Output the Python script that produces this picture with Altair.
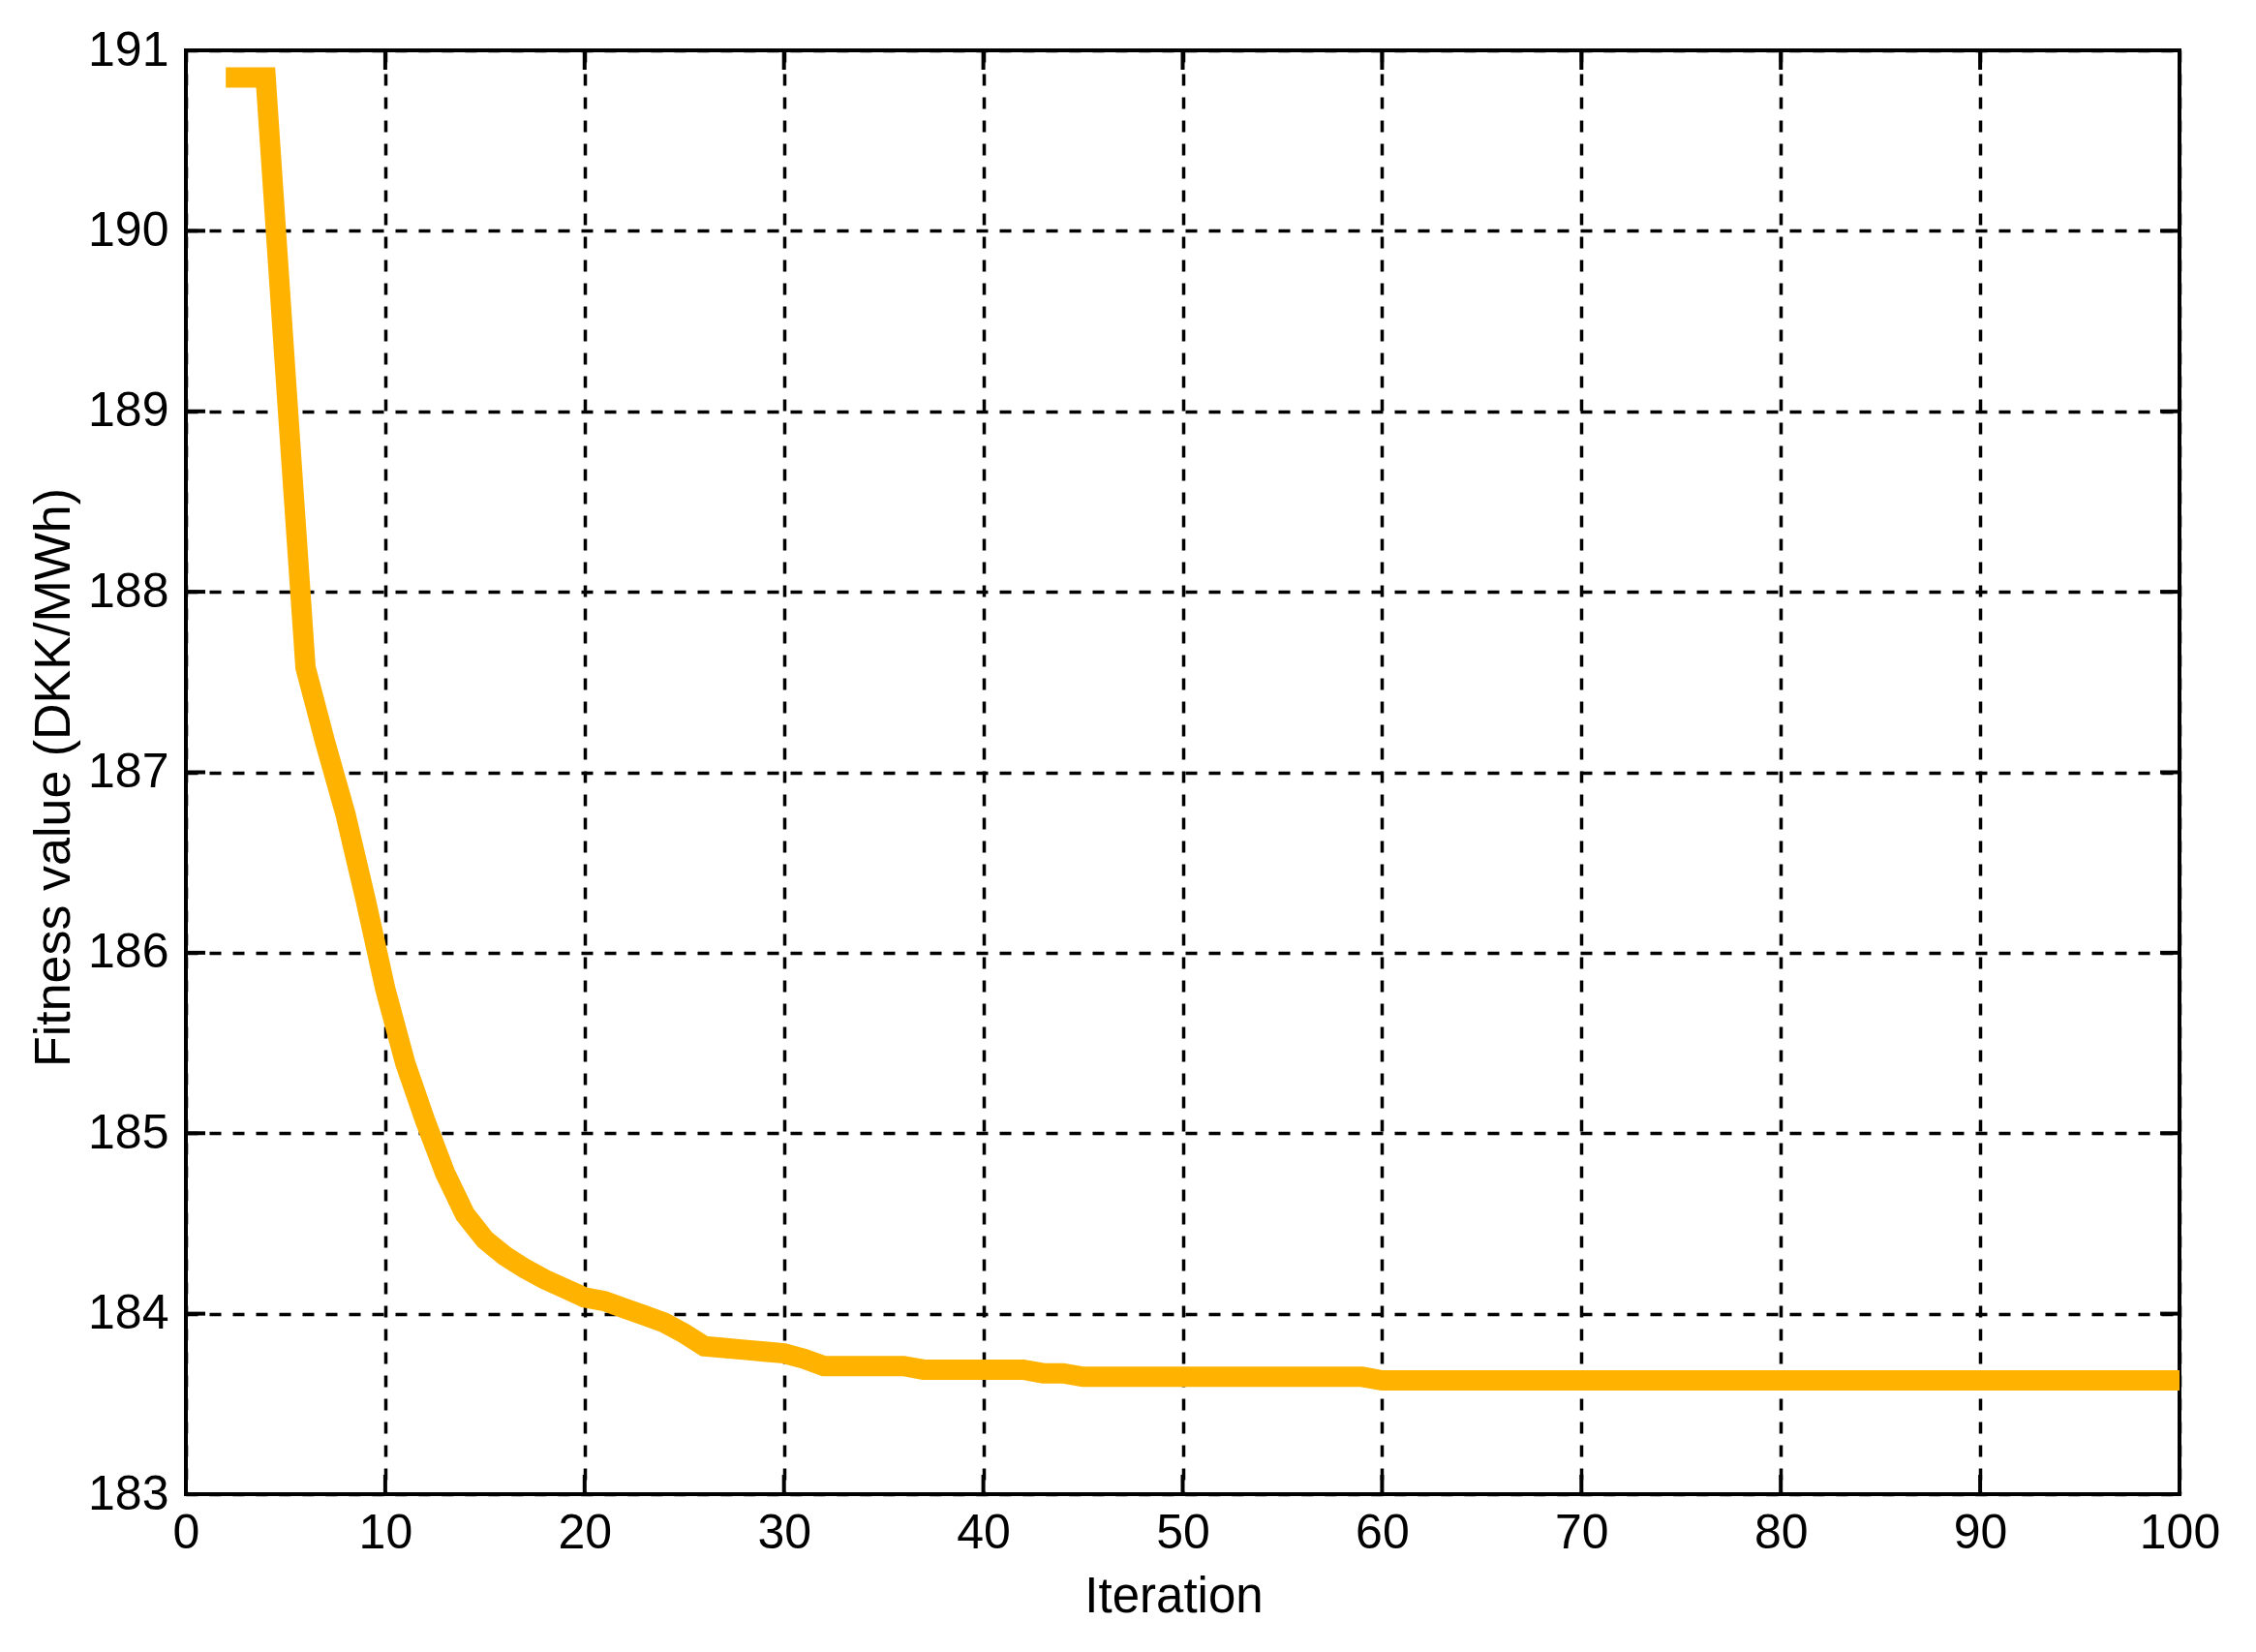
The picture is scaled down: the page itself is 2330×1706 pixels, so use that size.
import altair as alt
import pandas as pd

# Convergence curve
iterations = [2, 3, 4, 5, 6, 7, 8, 9, 10, 11, 12, 13, 14, 15, 16, 17, 18, 19, 20,
              21, 22, 23, 24, 25, 26, 27, 28, 29, 30, 31, 32, 36, 37, 42, 43, 44,
              45, 59, 60, 100]
fitness = [190.85, 190.85, 190.85, 189.20, 187.58, 187.16, 186.77, 186.30, 185.80,
           185.39, 185.07, 184.78, 184.55, 184.41, 184.32, 184.25, 184.19, 184.14,
           184.09, 184.07, 184.03, 183.99, 183.95, 183.89, 183.82, 183.81, 183.80,
           183.79, 183.78, 183.75, 183.71, 183.71, 183.69, 183.69, 183.67, 183.67,
           183.65, 183.65, 183.63, 183.63]

x_ticks = [0, 10, 20, 30, 40, 50, 60, 70, 80, 90, 100]
y_ticks = [183, 184, 185, 186, 187, 188, 189, 190, 191]

W, H = 2059, 1491
FONT = "Liberation Sans"
TICK = 20

df = pd.DataFrame({"it": iterations, "fit": fitness})
xt = pd.DataFrame({"it": x_ticks})
yt = pd.DataFrame({"fit": y_ticks})

xs = alt.Scale(domain=[0, 100], nice=False, zero=False)
ys = alt.Scale(domain=[183, 191], nice=False, zero=False)

x_axis = alt.Axis(values=x_ticks, format="d", grid=True, gridColor="black",
                  gridDash=[12, 12], gridWidth=3.5, gridOpacity=1, ticks=False,
                  domain=False, labelFont=FONT, labelFontSize=50, labelColor="black",
                  labelPadding=15, labelOverlap=False, labelFlush=False,
                  title="Iteration", titleFont=FONT, titleFontSize=51,
                  titleFontWeight="normal", titleColor="black",
                  titleX=1020, titleY=121, titleBaseline="alphabetic",
                  titleAlign="center")
y_axis = alt.Axis(values=y_ticks, format="d", grid=True, gridColor="black",
                  gridDash=[12, 12], gridWidth=3.5, gridOpacity=1, ticks=False,
                  domain=False, labelFont=FONT, labelFontSize=50, labelColor="black",
                  labelPadding=18, labelOverlap=False, labelFlush=False,
                  title="Fitness value (DKK/MWh)", titleFont=FONT, titleFontSize=52,
                  titleFontWeight="normal", titleColor="black",
                  titleX=-121, titleY=H / 2 + 5, titleAngle=270,
                  titleBaseline="alphabetic", titleAlign="center")

line = alt.Chart(df).mark_line(color="#FFB300", strokeWidth=21, strokeCap="butt",
                               strokeJoin="miter", clip=True).encode(
    x=alt.X("it:Q", scale=xs, axis=x_axis),
    y=alt.Y("fit:Q", scale=ys, axis=y_axis),
)

left_ticks = alt.Chart(yt).mark_rule(color="black", strokeWidth=4).encode(
    y=alt.Y("fit:Q", scale=ys, axis=y_axis), x=alt.value(0), x2=alt.value(TICK))
right_ticks = alt.Chart(yt).mark_rule(color="black", strokeWidth=4).encode(
    y=alt.Y("fit:Q", scale=ys, axis=y_axis), x=alt.value(W - TICK), x2=alt.value(W))
bottom_ticks = alt.Chart(xt).mark_rule(color="black", strokeWidth=4).encode(
    x=alt.X("it:Q", scale=xs, axis=x_axis), y=alt.value(H - TICK), y2=alt.value(H))
top_ticks = alt.Chart(xt).mark_rule(color="black", strokeWidth=4).encode(
    x=alt.X("it:Q", scale=xs, axis=x_axis), y=alt.value(0), y2=alt.value(TICK))

chart = alt.layer(line, left_ticks, right_ticks, bottom_ticks, top_ticks).properties(
    width=W, height=H,
    autosize=alt.AutoSizeParams(type="none"),
    padding={"left": 184, "top": 44, "right": 71, "bottom": 155},
    background="white",
).configure_view(stroke="black", strokeWidth=4)

chart.save("out.html", embed_options={"renderer": "svg", "actions": False})
